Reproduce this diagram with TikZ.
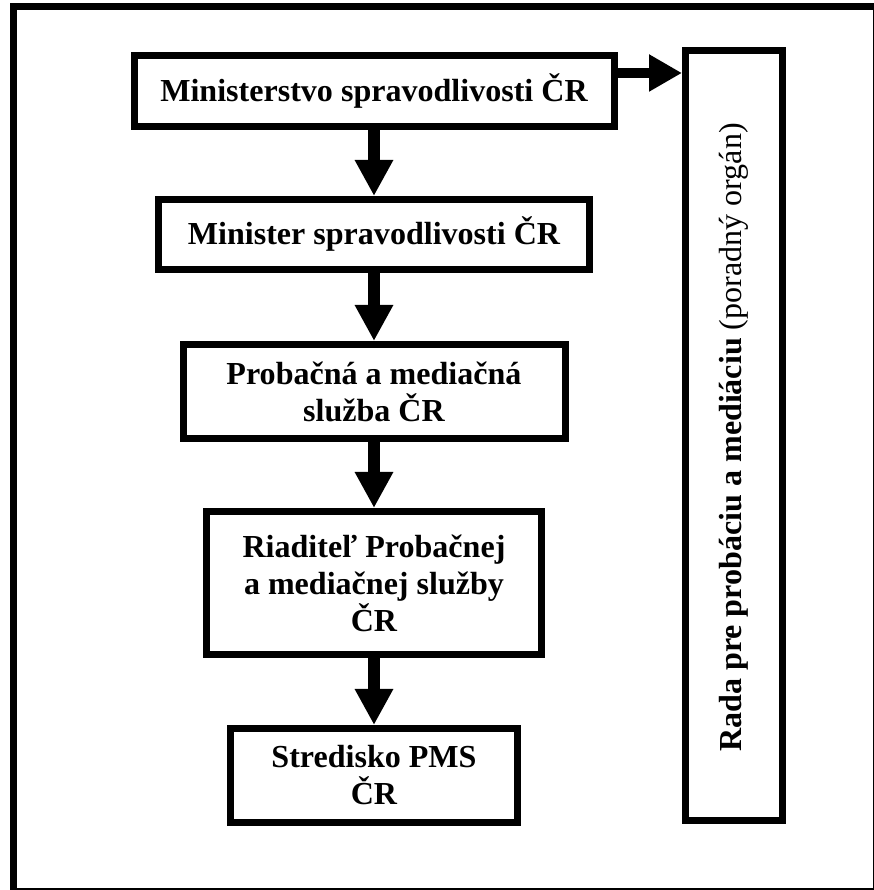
\documentclass[tikz,border=0pt]{standalone}
\usepackage{fontspec}
\setmainfont{Liberation Serif}
\usetikzlibrary{arrows.meta}
\tikzset{
  box/.style={draw,line width=0.175cm,align=center,inner sep=0pt,
    font=\fontsize{22.8pt}{26.3pt}\selectfont\bfseries},
  tok/.style={line width=0.3cm,-{Triangle[length=0.9cm,width=0.9cm]}}
}
\begin{document}
\begin{tikzpicture}
\useasboundingbox (0,0) rectangle (21.85,22.25);
\clip (0,0) rectangle (21.85,22.25);
\draw[line width=0.175cm] (0.3375,-0.0375) rectangle (21.9125,22.0875);
\node[box,minimum width=12cm,minimum height=1.775cm] (ministerstvo) at (9.35,19.975) {Ministerstvo spravodlivosti ČR};
\node[box,minimum width=10.775cm,minimum height=1.75cm] (minister) at (9.35,16.3875) {Minister spravodlivosti ČR};
\node[box,minimum width=9.55cm,minimum height=2.35cm] (sluzba) at (9.35,12.4625) {Probačná a mediačná\\služba ČR};
\node[box,minimum width=8.375cm,minimum height=3.575cm] (riaditel) at (9.35,7.675) {Riaditeľ Probačnej\\a mediačnej služby\\ČR};
\node[box,minimum width=7.175cm,minimum height=2.35cm] (stredisko) at (9.35,2.8625) {Stredisko PMS\\ČR};
\node[box,minimum width=2.425cm,minimum height=19.25cm] (rada) at (18.35,11.3625) {};
\node[rotate=90,font=\fontsize{22.8pt}{26.3pt}\selectfont] at ([yshift=-0.05cm]rada.center) {\textbf{Rada pre probáciu a mediáciu} (poradný orgán)};
\draw[tok] (ministerstvo) -- (minister);
\draw[tok] (minister) -- (sluzba);
\draw[tok] (sluzba) -- (riaditel);
\draw[tok] (riaditel) -- (stredisko);
\draw[tok,line width=0.25cm,-{Triangle[length=0.825cm,width=0.875cm]}] ([yshift=0.45cm]ministerstvo.east) -- ([yshift=0.45cm]ministerstvo.east -| rada.west);
\end{tikzpicture}
\end{document}
